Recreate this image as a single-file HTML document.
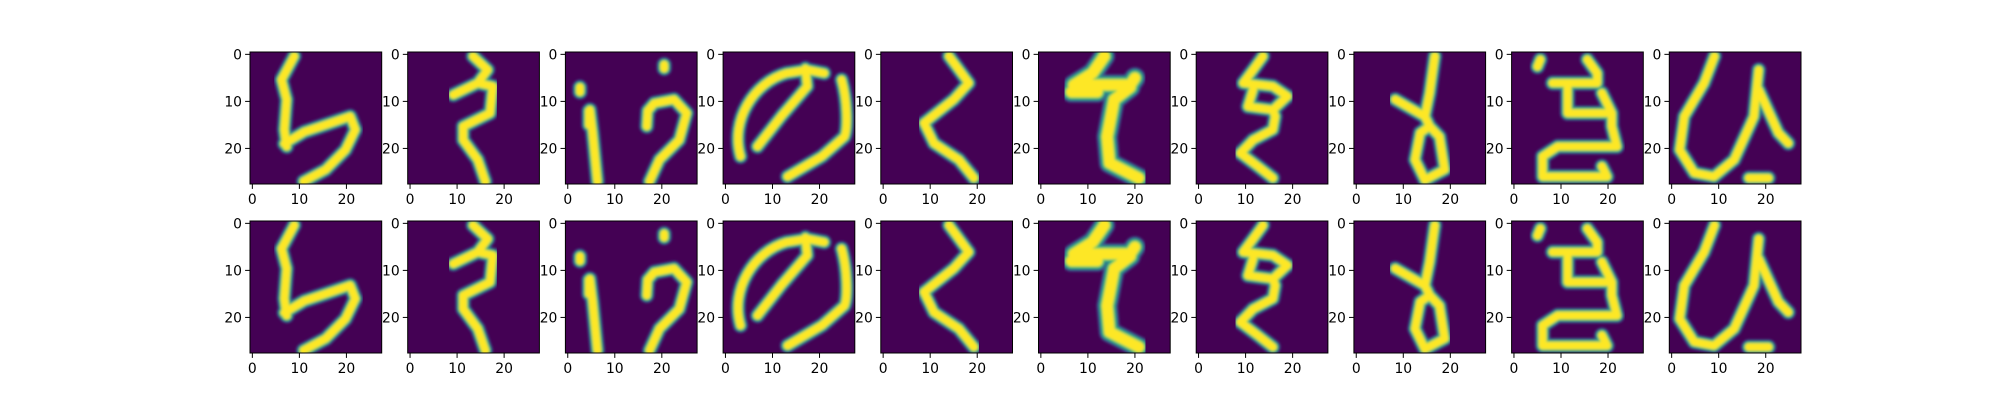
<!DOCTYPE html>
<html><head><meta charset="utf-8"><style>
html,body{margin:0;padding:0;background:#fff;}
svg{display:block;font-family:"DejaVu Sans","Liberation Sans",sans-serif;}
</style></head>
<body>
<svg id="fig" width="2000" height="400" viewBox="0 0 2000 400" xmlns="http://www.w3.org/2000/svg"></svg>
<script>
// Character strokes in image units (0..27), one entry per panel column
const glyphs = [
 "M8.9,0.4 L6.2,5.4 L7.3,9.6 L6.8,16 L7.3,19.6 M6.8,19 L11,16.5 L14.6,15.3 L20.8,13.2 L21.9,16 L19.8,20.3 L15.6,24.5 L10.9,27",
 "M13.4,0.4 L16.5,3.3 L14.4,6.1 L9.2,8.6 M14.4,6.1 L17.6,6.8 L17,12.5 L11.3,15.3 L11.3,18.2 L14.4,22.4 L16,27",
 "M4.7,11.8 L5.3,16.7 L6.3,27 M4.5,12 L4.5,15 M2.6,7 L2.6,8 M20.5,2.2 L20.5,3 M16.8,15.3 L17,12 L18.4,10.4 L22.6,9.6 L25.3,12.5 L23.7,18.2 L19.5,22.4 L17.4,27",
 "M3.2,21.7 C1,14 6,6 13,4 L17.4,3.3 L21,4 M24.7,5.4 C26,10 26,16 25.3,17.5 L20.5,21.7 L13.2,26 M6.8,19.6 L12,13 L17.4,6.8 L17,3",
 "M14,0.4 L18.2,6.1 L15,9.6 L8.7,14.6 L10.8,18.9 L16.1,22.4 L19.3,26.3",
 "M13.5,0.4 L11,4 L7,6.5 L19,6.5 L20,5 M6.5,8 L12,8 M19,7 L15.6,9.6 L14.1,17.5 L14.6,23.1 L20.8,26.3",
 "M13.7,0.4 L11.6,3.3 L9.5,6.1 L15.8,6.8 L18.9,8.9 L15.8,11.8 L10.5,11.1 L11.6,7.5 M15.8,11.8 L16.3,13.2 L15.8,16 L11.6,18.2 L8.9,21 L12.6,23.8 L15.8,26.3",
 "M16.7,0.4 L15.6,8.2 L14.6,13.2 M8.3,9.6 L14.6,13.2 L15.6,15.3 L13.6,16.7 L12.5,22.4 L14.6,26.7 L18.8,24.5 L17.7,17.5 L15.6,15.3",
 "M5.6,1.1 L5,2.6 M15.6,1.1 L17.7,4 L17.7,6.1 L8.2,6.1 M11.4,6.8 L11.4,12.5 L20.8,12.5 L18.7,8.2 M20.8,12.5 L20.8,15.3 L21.9,19.6 L9.3,19.6 L6.1,21.7 L6.1,26 L19.8,26 L18.7,23.8",
 "M9.1,0.4 L6.9,6.1 L2.7,13.2 L1.7,20.3 L4.8,25.2 L9,26 L13.3,22.4 L17.5,13.2 L18.5,3.3 M18.5,7.5 L22.7,16.7 L24.8,18.9 M16.4,26.3 L20.6,26.3"
];
const rows = [0, 1];
const xTicks = [0, 10, 20];
const yTicks = [0, 10, 20];
const NS = "http://www.w3.org/2000/svg";
const svg = document.getElementById("fig");
const X0 = 250, DX = 157.7, W = 131.7, H = 132, rowTop = [52, 221];
const u = W / 28;
function mk(tag, attrs, parent){const e=document.createElementNS(NS,tag);for(const k in attrs)e.setAttribute(k,attrs[k]);(parent||svg).appendChild(e);return e;}
const defs = mk("defs",{});
const blur = mk("filter",{id:"soft",x:"-10%",y:"-10%",width:"120%",height:"120%"},defs);
mk("feGaussianBlur",{stdDeviation:"0.3"},blur);
rows.forEach(r=>{
 glyphs.forEach((g,i)=>{
  const left = X0 + i*DX, top = rowTop[r];
  const ax = mk("g",{});
  
  
  const cp = mk("clipPath",{id:"c"+r+"_"+i},defs);
  mk("rect",{x:left,y:top,width:W,height:H},cp);
  const bg = mk("rect",{x:left,y:top,width:W,height:H,fill:"#440154"},ax);
  
  
  const im = mk("g",{"clip-path":"url(#c"+r+"_"+i+")"},ax);
  const inner = mk("g",{transform:"translate("+(left+0.5*u)+","+(top+0.5*u)+") scale("+u+")",fill:"none","stroke-linecap":"round","stroke-linejoin":"round",filter:"url(#soft)"},im);
  const w = (i===5)?1.4:1;
  [["#3b528b",3.2*w],["#21918c",2.6*w],["#5ec962",2.1*w],["#fde725",1.6*w]].forEach(([c,sw])=>{
    const p = mk("path",{d:g,stroke:c,"stroke-width":sw},inner);
    
    
  });
  const fr = mk("rect",{x:left,y:top,width:W,height:H,fill:"none",stroke:"#000","stroke-width":1},ax);
  
  
  yTicks.forEach(v=>{
   const y = top + (v+0.5)*u;
   mk("line",{x1:left-4.9,x2:left,y1:y,y2:y,stroke:"#000","stroke-width":1},ax);
   const t = mk("text",{x:left-8,y:y+5,"text-anchor":"end","font-size":"13.9",fill:"#000"},ax);
   t.textContent = v;
   
   
  });
  xTicks.forEach(v=>{
   const x = left + (v+0.5)*u;
   mk("line",{x1:x,x2:x,y1:top+H,y2:top+H+4.9,stroke:"#000","stroke-width":1},ax);
   const t = mk("text",{x:x,y:top+H+20,"text-anchor":"middle","font-size":"13.9",fill:"#000"},ax);
   t.textContent = v;
   
   
  });
 });
});
</script>
</body></html>
